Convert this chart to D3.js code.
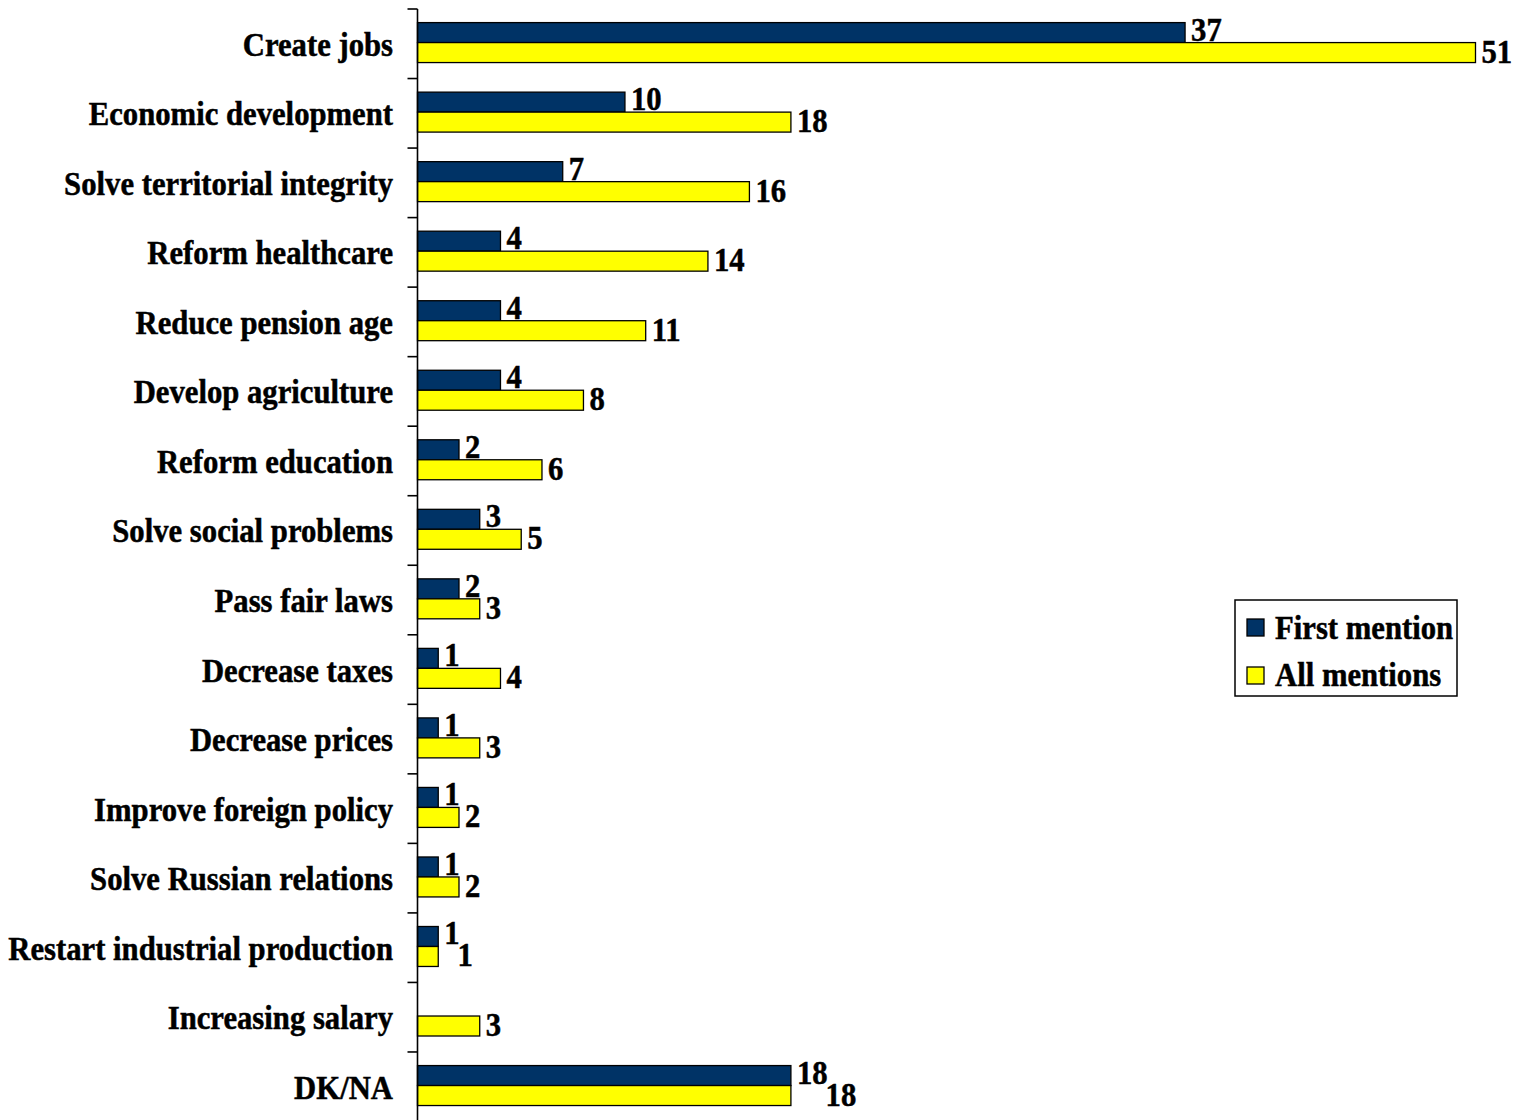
<!DOCTYPE html>
<html>
<head>
<meta charset="utf-8">
<script src="https://cdn.jsdelivr.net/npm/d3@7"></script>
<style>
  html, body { margin: 0; padding: 0; background: #fff; }
  svg { display: block; }
  text { font-family: "Liberation Serif", "Times New Roman", serif; font-weight: bold; fill: #000;
         stroke: #000; stroke-width: 0.5px; }
</style>
</head>
<body>
<svg id="chart" width="1518" height="1120"></svg>
<script>
// Survey answers: what should the new government do first (percent of respondents)
const categories = [
  "Create jobs",
  "Economic development",
  "Solve territorial integrity",
  "Reform healthcare",
  "Reduce pension age",
  "Develop agriculture",
  "Reform education",
  "Solve social problems",
  "Pass fair laws",
  "Decrease taxes",
  "Decrease prices",
  "Improve foreign policy",
  "Solve Russian relations",
  "Restart industrial production",
  "Increasing salary",
  "DK/NA"
];
const firstMention = [37, 10, 7, 4, 4, 4, 2, 3, 2, 1, 1, 1, 1, 1, null, 18];
const allMentions  = [51, 18, 16, 14, 11, 8, 6, 5, 3, 4, 3, 2, 2, 1, 3, 18];

const seriesNames  = ["First mention", "All mentions"];
const seriesColors = ["#003366", "#FFFF00"];

const svg = d3.select("#chart");
const FONT = 33;
const SX = 0.93; // narrow glyph width used throughout the chart text

const axisX = 417.5;
const y = d3.scaleBand().domain(categories).range([9, 1121.5]).padding(0);
const sub = d3.scaleBand().domain([0, 1]).range([0, y.bandwidth()])
  .paddingInner(0).paddingOuter(0.74).align(0.46);
const x = d3.scaleLinear().domain([0, d3.max(allMentions)]).range([axisX, 1475.5]);

const rows = categories.map((c, i) => ({
  cat: c,
  vals: [firstMention[i], allMentions[i]]
}));

function squeezed(sel, px, py) {
  return sel.attr("transform", `translate(${px},${py}) scale(${SX},1)`);
}

// Bars
const groups = svg.append("g").selectAll("g.row")
  .data(rows).join("g")
  .attr("class", "row")
  .attr("transform", d => `translate(0,${y(d.cat)})`);

groups.selectAll("rect")
  .data(d => d.vals.map((v, k) => ({ v, k })).filter(e => e.v != null))
  .join("rect")
  .attr("x", x(0))
  .attr("y", e => sub(e.k))
  .attr("width", e => x(e.v) - x(0))
  .attr("height", sub.bandwidth())
  .attr("fill", e => seriesColors[e.k])
  .attr("stroke", "#000")
  .attr("stroke-width", 1.3);

// Value labels (second label nudged right when it would collide with the first)
groups.each(function (d) {
  const g = d3.select(this);
  let prevEnd = null, prevX = null;
  d.vals.forEach((v, k) => {
    if (v == null) return;
    let px = x(v) + 6;
    const py = sub(k) + sub.bandwidth() - 2 + (k === 1 ? 2 : 0);
    const t = g.append("text").attr("font-size", FONT).text(v);
    const w = t.node().getComputedTextLength() * SX;
    if (prevEnd != null && px < prevEnd && px + w > prevX) {
      px = prevEnd - 2;
    }
    squeezed(t, px, py);
    prevEnd = px + w;
    prevX = px;
  });
});

// Category axis
const axis = d3.axisLeft(y).tickSize(0).tickFormat("");
const axisG = svg.append("g").attr("transform", `translate(${axisX},0)`).call(axis);
axisG.select(".domain").remove();
axisG.append("line")
  .attr("x1", 0).attr("x2", 0)
  .attr("y1", y.range()[0]).attr("y2", y.range()[1])
  .attr("stroke", "#000").attr("stroke-width", 1.6);
// boundary ticks between categories
const bounds = d3.range(categories.length).map(i => y(categories[i]));
axisG.selectAll("line.bound").data(bounds).join("line")
  .attr("class", "bound")
  .attr("x1", -10).attr("x2", 0)
  .attr("y1", d => d).attr("y2", d => d)
  .attr("stroke", "#000").attr("stroke-width", 1.6);

// Category labels
svg.append("g").selectAll("text")
  .data(categories).join("text")
  .attr("font-size", FONT)
  .attr("text-anchor", "end")
  .text(d => d)
  .each(function (d) {
    squeezed(d3.select(this), 393, y(d) + y.bandwidth() / 2 + 12);
  });

// Legend
const legend = svg.append("g");
legend.append("rect")
  .attr("x", 1235).attr("y", 600).attr("width", 222).attr("height", 96)
  .attr("fill", "#fff").attr("stroke", "#000").attr("stroke-width", 1.5);
seriesNames.forEach((name, k) => {
  legend.append("rect")
    .attr("x", 1247).attr("y", 619 + k * 48).attr("width", 17).attr("height", 17)
    .attr("fill", seriesColors[k]).attr("stroke", "#000").attr("stroke-width", 1.3);
  const t = legend.append("text").attr("font-size", FONT).text(name);
  squeezed(t, 1275, 639 + k * 47);
});
</script>
</body>
</html>
